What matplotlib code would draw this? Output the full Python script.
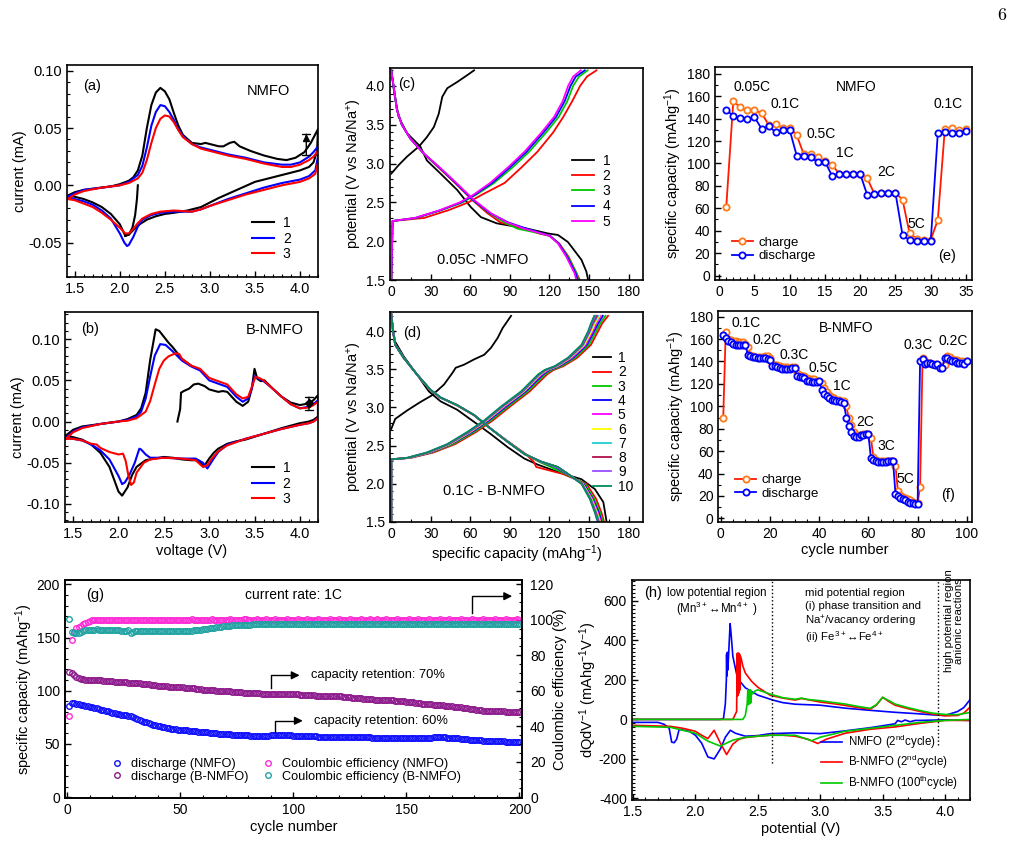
import matplotlib
matplotlib.use('Agg')
import matplotlib.pyplot as plt
import numpy as np
from matplotlib.ticker import MultipleLocator, FormatStrFormatter

plt.rcParams['font.family'] = ['Liberation Sans', 'DejaVu Sans']
plt.rcParams['mathtext.default'] = 'regular'
plt.rcParams['axes.unicode_minus'] = False
plt.rcParams['font.size'] = 10
plt.rcParams['axes.linewidth'] = 1.2

# %% data -----------------------------------------------------------------
# (a) CV of NMFO, (voltage, current) pairs going round each loop
cv_a_1 = [(2.2, 0.0), (2.19, -0.012), (2.17, -0.026), (2.14, -0.037), (2.1, -0.043), (2.06, -0.044),
          (2.0, -0.034), (1.9, -0.025), (1.8, -0.019), (1.7, -0.015), (1.6, -0.012), (1.5, -0.010),
          (1.42, -0.009), (1.5, -0.006), (1.6, -0.004), (1.7, -0.003), (1.8, -0.002), (1.9, -0.001),
          (2.0, 0.001), (2.1, 0.004), (2.15, 0.007), (2.2, 0.013), (2.25, 0.026), (2.3, 0.05),
          (2.35, 0.07), (2.4, 0.081), (2.45, 0.085), (2.5, 0.082), (2.55, 0.075), (2.6, 0.063),
          (2.65, 0.052), (2.7, 0.044), (2.8, 0.037), (2.9, 0.036), (2.95, 0.037), (3.0, 0.036),
          (3.1, 0.034), (3.15, 0.034), (3.22, 0.037), (3.27, 0.038), (3.33, 0.034), (3.45, 0.030),
          (3.6, 0.026), (3.75, 0.023), (3.85, 0.022), (3.95, 0.024), (4.05, 0.029), (4.12, 0.037),
          (4.2, 0.049), (4.19, 0.03), (4.15, 0.02), (4.1, 0.016), (4.0, 0.013), (3.85, 0.010),
          (3.7, 0.007), (3.5, 0.003), (3.3, -0.004), (3.1, -0.011), (3.0, -0.015), (2.9, -0.019),
          (2.75, -0.022), (2.6, -0.024), (2.5, -0.025), (2.4, -0.027), (2.3, -0.030), (2.2, -0.035),
          (2.15, -0.039), (2.1, -0.043), (2.06, -0.044)]
cv_a_2 = [(1.42, -0.010), (1.5, -0.007), (1.6, -0.004), (1.8, -0.002), (2.0, 0.0), (2.1, 0.003),
          (2.2, 0.009), (2.25, 0.017), (2.3, 0.033), (2.35, 0.052), (2.4, 0.064), (2.45, 0.070),
          (2.5, 0.069), (2.55, 0.064), (2.6, 0.057), (2.65, 0.049), (2.7, 0.043), (2.8, 0.036),
          (2.9, 0.033), (3.0, 0.031), (3.2, 0.027), (3.4, 0.024), (3.6, 0.020), (3.8, 0.018),
          (3.9, 0.018), (4.0, 0.020), (4.1, 0.025), (4.15, 0.029), (4.2, 0.034), (4.2, 0.025),
          (4.17, 0.013), (4.1, 0.008), (4.0, 0.005), (3.8, 0.002), (3.6, -0.002), (3.4, -0.007),
          (3.2, -0.012), (3.0, -0.018), (2.9, -0.021), (2.8, -0.023), (2.6, -0.023), (2.45, -0.024),
          (2.35, -0.026), (2.25, -0.03), (2.2, -0.036), (2.15, -0.045), (2.1, -0.052), (2.08, -0.053),
          (2.05, -0.05), (2.0, -0.042), (1.9, -0.029), (1.8, -0.022), (1.7, -0.017), (1.6, -0.014),
          (1.5, -0.012), (1.42, -0.010)]
cv_a_3 = [(1.42, -0.012), (1.5, -0.008), (1.6, -0.005), (1.8, -0.002), (2.0, 0.0), (2.1, 0.002),
          (2.2, 0.006), (2.25, 0.011), (2.3, 0.022), (2.35, 0.037), (2.4, 0.050), (2.45, 0.058),
          (2.5, 0.061), (2.55, 0.060), (2.6, 0.055), (2.65, 0.048), (2.7, 0.042), (2.8, 0.036),
          (2.9, 0.032), (3.0, 0.030), (3.2, 0.026), (3.4, 0.023), (3.6, 0.019), (3.8, 0.016),
          (3.9, 0.016), (4.0, 0.018), (4.1, 0.022), (4.15, 0.025), (4.2, 0.030), (4.2, 0.02),
          (4.17, 0.01), (4.1, 0.006), (4.0, 0.003), (3.8, 0.0), (3.6, -0.004), (3.4, -0.008),
          (3.2, -0.013), (3.0, -0.018), (2.9, -0.021), (2.8, -0.023), (2.6, -0.022), (2.45, -0.023),
          (2.35, -0.025), (2.25, -0.029), (2.2, -0.033), (2.15, -0.038), (2.1, -0.042), (2.06, -0.042),
          (2.0, -0.037), (1.9, -0.030), (1.8, -0.024), (1.7, -0.019), (1.6, -0.016), (1.5, -0.013),
          (1.42, -0.012)]

# (b) CV of B-NMFO
cv_b_1 = [(2.65, 0.0), (2.67, 0.01), (2.68, 0.015), (2.69, 0.035), (2.72, 0.037), (2.78, 0.04),
          (2.83, 0.045), (2.88, 0.046), (2.95, 0.043), (3.0, 0.039), (3.1, 0.036), (3.15, 0.037),
          (3.2, 0.036), (3.25, 0.030), (3.3, 0.024), (3.37, 0.019), (3.43, 0.024), (3.47, 0.040),
          (3.5, 0.064), (3.53, 0.052), (3.57, 0.049), (3.61, 0.050), (3.7, 0.040), (3.8, 0.030),
          (3.9, 0.023), (4.0, 0.020), (4.1, 0.022), (4.15, 0.026), (4.2, 0.032), (4.2, 0.006),
          (4.15, 0.002), (4.1, 0.0), (4.0, -0.002), (3.8, -0.008), (3.6, -0.015), (3.4, -0.022),
          (3.3, -0.024), (3.2, -0.027), (3.1, -0.033), (3.05, -0.038), (3.0, -0.045), (2.94, -0.055),
          (2.88, -0.047), (2.8, -0.047), (2.7, -0.046), (2.6, -0.044), (2.5, -0.043), (2.4, -0.045),
          (2.3, -0.047), (2.2, -0.055), (2.15, -0.065), (2.1, -0.08), (2.04, -0.09), (2.0, -0.085),
          (1.95, -0.07), (1.9, -0.055), (1.8, -0.038), (1.7, -0.028), (1.6, -0.022), (1.5, -0.019),
          (1.42, -0.017), (1.5, -0.010), (1.6, -0.006), (1.8, -0.003), (2.0, 0.0), (2.1, 0.003),
          (2.2, 0.008), (2.25, 0.016), (2.3, 0.035), (2.35, 0.075), (2.41, 0.112), (2.45, 0.110),
          (2.5, 0.103), (2.55, 0.096), (2.6, 0.090), (2.7, 0.076), (2.8, 0.068)]
cv_b_2 = [(1.42, -0.02), (1.5, -0.012), (1.6, -0.007), (1.8, -0.003), (2.0, 0.0), (2.1, 0.002),
          (2.2, 0.006), (2.25, 0.012), (2.3, 0.028), (2.35, 0.055), (2.4, 0.08), (2.46, 0.094),
          (2.52, 0.093), (2.6, 0.085), (2.7, 0.074), (2.8, 0.067), (2.9, 0.062), (3.0, 0.05),
          (3.1, 0.046), (3.2, 0.042), (3.3, 0.03), (3.37, 0.024), (3.43, 0.028), (3.47, 0.04),
          (3.5, 0.055), (3.55, 0.052), (3.6, 0.049), (3.7, 0.04), (3.8, 0.03), (3.9, 0.021),
          (4.0, 0.016), (4.1, 0.018), (4.15, 0.021), (4.2, 0.026), (4.2, 0.004), (4.15, 0.0),
          (4.1, -0.002), (4.0, -0.004), (3.8, -0.009), (3.6, -0.015), (3.4, -0.021), (3.2, -0.028),
          (3.1, -0.037), (3.05, -0.045), (2.98, -0.057), (2.93, -0.05), (2.85, -0.045), (2.7, -0.045),
          (2.5, -0.044), (2.35, -0.044), (2.3, -0.04), (2.25, -0.034), (2.23, -0.033), (2.18, -0.05),
          (2.12, -0.065), (2.07, -0.074), (2.04, -0.076), (2.0, -0.066), (1.9, -0.046), (1.8, -0.035),
          (1.7, -0.028), (1.6, -0.023), (1.5, -0.021), (1.42, -0.02)]
cv_b_3 = [(1.42, -0.021), (1.5, -0.013), (1.6, -0.008), (1.8, -0.003), (2.0, 0.0), (2.1, 0.001),
          (2.2, 0.004), (2.3, 0.012), (2.35, 0.025), (2.4, 0.045), (2.45, 0.064), (2.5, 0.074),
          (2.55, 0.079), (2.63, 0.083), (2.67, 0.082), (2.7, 0.076), (2.8, 0.068), (2.9, 0.064),
          (3.0, 0.053), (3.1, 0.049), (3.2, 0.045), (3.3, 0.033), (3.37, 0.028), (3.43, 0.03),
          (3.47, 0.042), (3.51, 0.054), (3.55, 0.053), (3.6, 0.05), (3.7, 0.04), (3.8, 0.03),
          (3.9, 0.021), (4.0, 0.016), (4.1, 0.017), (4.15, 0.02), (4.2, 0.024), (4.2, 0.004),
          (4.15, 0.0), (4.1, -0.002), (4.0, -0.004), (3.8, -0.009), (3.6, -0.015), (3.4, -0.021),
          (3.2, -0.029), (3.1, -0.036), (3.03, -0.045), (2.98, -0.053), (2.93, -0.055), (2.85, -0.047),
          (2.7, -0.045), (2.5, -0.044), (2.35, -0.046), (2.28, -0.05), (2.2, -0.062), (2.17, -0.074),
          (2.14, -0.077), (2.11, -0.066), (2.08, -0.048), (2.05, -0.039), (2.0, -0.04), (1.9, -0.037),
          (1.8, -0.032), (1.76, -0.028), (1.7, -0.027), (1.6, -0.023), (1.5, -0.021), (1.42, -0.021)]

# (c) 0.05C NMFO charge / discharge, capacities on a shared potential grid
c_ch_v = [1.5, 2.26, 2.3, 2.4, 2.5, 2.6, 2.75, 2.95, 3.15, 3.4, 3.6, 3.8, 4.0, 4.12, 4.2]
c_ch_cap = [
    [0, 1, 25, 43.5, 58.5, 69, 86, 98.8, 110.8, 122.8, 130.5, 137.2, 143.3, 148.5, 155.7],
    [0, 1, 19, 38, 54, 64.5, 78, 92, 104.5, 117.5, 127, 133.5, 138, 142.5, 149],
    [0, 1, 18.5, 37.5, 53, 63.5, 76.5, 90, 102.5, 115.5, 125, 131.5, 136, 140, 146.8],
    [0, 1, 18, 37, 52, 62.5, 75, 88.5, 101, 114, 123.5, 130, 134.2, 138, 143.8],
]
c_first_ch_cap = [0, 5.6, 12, 21, 27, 32.3, 36, 38.7, 42.5, 50, 57.8, 62.8]
c_first_ch_v = [2.87, 2.98, 3.09, 3.22, 3.34, 3.47, 3.64, 3.86, 3.97, 4.05, 4.14, 4.2]
c_dis_v = [4.2, 3.99, 3.69, 3.5, 3.32, 3.13, 2.94, 2.74, 2.53, 2.36, 2.24, 2.16, 2.1, 2.07, 1.97, 1.8, 1.59, 1.5]
c_dis_cap = [
    [0, 2.3, 5.6, 12, 22, 27, 37.4, 50, 60.3, 68, 80, 103.6, 118.8, 126.5, 134, 144.3, 148, 149.4],
    [0, 1.8, 4.3, 8, 14.5, 24.5, 36.5, 49, 61.5, 73, 83, 102, 112, 120, 127.5, 134.5, 140.5, 143],
    [0, 1.8, 4.3, 8, 14.5, 24.5, 37, 49.5, 62, 74.5, 86, 96, 113, 120, 127, 134, 140.5, 142],
    [0, 1.8, 4.3, 8, 14.5, 24.7, 37, 49.5, 62, 75, 89, 103, 114.5, 120.5, 127, 133.5, 139.8, 141.5],
    [0, 1.8, 4.3, 8, 14.5, 24.7, 37.4, 50, 62.8, 75.6, 88.3, 101, 113.7, 120, 126.5, 132.8, 139, 140.5],
]
c_dis_v_first = [4.2, 3.9, 3.6, 3.39, 3.22, 3.04, 2.87, 2.66, 2.44, 2.31, 2.23, 2.16, 2.1, 2.08, 1.99, 1.76, 1.61, 1.5]
c_cycles = ['1', '2', '3', '4', '5']
c_colors = ['black', '#ff0000', '#00c800', '#0000ff', '#ff00ff']

# (d) 0.1C B-NMFO charge / discharge (cycles 2-10 on a shared grid)
d_ch_v = [1.5, 2.32, 2.34, 2.41, 2.52, 2.68, 2.83, 3.01, 3.21, 3.43, 3.49, 3.54, 3.65, 3.82, 4.0, 4.1, 4.2]
d_ch_cap = [
    [0, 0, 15, 32, 48.5, 64.5, 77, 90, 105, 118, 123, 130.5, 141, 151.5, 157, 160, 164.5],
    [0, 0, 14, 30.5, 47, 63, 75.5, 88.5, 103.5, 116.5, 121.5, 129, 139.5, 150, 155.5, 158.5, 162.5],
    [0, 0, 13.5, 29.5, 45.5, 61.5, 74, 87, 102, 115, 120, 127.5, 138, 148.5, 154, 157, 160.5],
    [0, 0, 13, 29, 45, 60.5, 73, 86, 101, 114, 119, 126.5, 137, 147.5, 153, 155.5, 159],
    [0, 0, 13, 28.5, 44.5, 60, 72.5, 85, 100.5, 113, 118, 126, 136, 146.5, 152, 154.5, 158],
    [0, 0, 12.5, 28, 44, 59.5, 72, 84.5, 100, 112.5, 117.5, 125.5, 135.5, 145.8, 151, 153.5, 157],
    [0, 0, 12.5, 27.8, 43.5, 59, 71.5, 84, 99.5, 112, 117, 125, 135, 145.2, 150.5, 152.8, 156],
    [0, 0, 12, 27.3, 43, 58.2, 71, 83.5, 99, 111.6, 116.6, 124.5, 134.5, 144.7, 150, 152, 155],
    [0, 0, 12, 27, 42.5, 57.8, 70.5, 83.2, 98.5, 111.3, 116.3, 124, 134, 144.3, 149.4, 151.5, 154],
]
d_first_ch_cap = [0, 3, 12, 22, 31, 40, 46.3, 48.9, 55.2, 62.9, 70.5, 75.6, 80.7, 84.5, 90.9]
d_first_ch_v = [2.72, 2.85, 2.96, 3.07, 3.16, 3.3, 3.45, 3.52, 3.56, 3.63, 3.69, 3.78, 3.91, 4.04, 4.2]
d_dis_v = [4.22, 4.0, 3.82, 3.65, 3.43, 3.23, 3.13, 3.03, 2.9, 2.72, 2.55, 2.39, 2.29, 2.22, 2.13, 2.0, 1.8, 1.62, 1.5]
d_dis_cap = [
    [0, 1.3, 3, 9.4, 19.6, 29.5, 37, 49.5, 62.5, 75.5, 89, 102, 108, 110, 130, 148, 155.5, 159.5, 161.5],
    [0, 1.3, 3, 9.4, 19.6, 29.6, 37.2, 49.8, 62.7, 75.5, 88.6, 101.5, 112, 121, 132, 147, 154, 158.5, 160.5],
    [0, 1.3, 3, 9.4, 19.6, 29.7, 37.3, 49.9, 62.8, 75.6, 88.4, 101.2, 113, 124.5, 133, 146, 153, 157.5, 159.5],
    [0, 1.3, 3, 9.4, 19.6, 29.7, 37.3, 49.9, 62.8, 75.6, 88.4, 101.1, 113.3, 125.5, 133.5, 145.5, 152.5, 156.8, 159],
    [0, 1.3, 3, 9.4, 19.6, 29.7, 37.3, 49.9, 62.8, 75.6, 88.4, 101.1, 113.5, 126, 133.8, 145.2, 152, 156.2, 158.4],
    [0, 1.3, 3, 9.4, 19.6, 29.8, 37.4, 50, 62.9, 75.6, 88.3, 101, 113.6, 126.2, 133.9, 144.9, 151.6, 155.7, 157.9],
    [0, 1.3, 3, 9.4, 19.6, 29.8, 37.4, 50, 62.9, 75.6, 88.3, 101, 113.7, 126.3, 134, 144.7, 151.2, 155.2, 157.4],
    [0, 1.3, 3, 9.4, 19.6, 29.8, 37.4, 50, 62.9, 75.6, 88.3, 101, 113.8, 126.4, 134, 144.5, 150.9, 154.8, 157],
    [0, 1.3, 3, 9.4, 19.6, 29.8, 37.4, 50, 62.9, 75.6, 88.3, 101, 113.8, 126.5, 134, 144.3, 150.7, 154.5, 156.6],
]
d_first_dis_cap = [0, 1.5, 3, 9.4, 19.6, 28.5, 37.4, 50, 62.9, 75.6, 88.3, 101, 111.3, 124, 136.7, 144.3, 154.5, 160.9, 163.4]
d_first_dis_v = [4.22, 4.0, 3.86, 3.67, 3.43, 3.21, 3.08, 2.97, 2.81, 2.65, 2.48, 2.33, 2.25, 2.17, 2.1, 2.06, 1.93, 1.76, 1.5]
d_cycles = ['1', '2', '3', '4', '5', '6', '7', '8', '9', '10']
d_colors = ['black', '#ff0000', '#00c800', '#0000ff', '#ff00ff', '#ffff00', '#20d0d0',
            '#b0104a', '#9b4dff', '#008c5a']

# (e) rate test NMFO
e_cycle = np.arange(1, 36)
e_charge = [61, 155.5, 150, 147.4, 147.4, 145, 134.6, 135, 131.6, 132,
            125, 108, 108.5, 106, 102, 98.6, 91, 90.5, 90.5, 90.5,
            86.6, 73, 73.5, 74, 74, 67.5, 37.5, 33, 32, 32,
            49.5, 131, 131.5, 130, 131]
e_discharge = [147.4, 142.6, 140.5, 140, 141.4, 131, 133, 128, 129.8, 129.8,
               106.7, 107, 105.5, 101, 101.6, 89, 90.2, 90.5, 90.5, 90.5,
               71.7, 73, 73.5, 73.5, 73.5, 36, 31.5, 31, 31, 31,
               127, 128, 127, 127, 129]
e_rates = ['0.05C', '0.1C', '0.5C', '1C', '2C', '5C', '0.1C']
e_rate_x = [4.6, 9.3, 14.5, 17.8, 23.7, 28.0, 32.5]
e_rate_y = [168, 153, 126.5, 109, 92, 46, 153]

# (f) rate test B-NMFO
f_cycle = np.arange(1, 101)
f_charge = [90, 166, 160, 159, 158, 158, 157, 157, 157, 156,
            153, 146, 145, 144, 144, 144, 144, 145, 145, 143,
            138, 137, 137, 136, 135, 135, 135, 134, 135, 135,
            130, 128, 127, 127, 125, 124, 124, 124, 123, 123,
            121, 116, 113, 110, 108, 107, 106, 106, 105, 105,
            100, 90, 83, 77, 74, 74, 74, 75, 75, 75,
            72, 55, 52, 51, 51, 51, 51, 51, 51, 51,
            47, 24, 21, 19, 18, 17, 16, 15, 14, 14,
            28, 143, 140, 139, 139, 138, 138, 137, 136, 135,
            137, 145, 144, 142, 141, 141, 140, 140, 139, 140]
f_discharge = [163.5, 161, 158, 157, 156, 155, 155, 155, 155, 155,
               146, 145, 144, 144, 143, 143, 143, 143, 142, 141,
               136, 136, 135, 134, 133, 133, 133, 133, 134, 134,
               127, 126, 126, 125, 123, 123, 122, 122, 122, 123,
               115, 111, 109, 107, 106, 106, 105, 105, 104, 103,
               90, 82, 77, 73.5, 73, 73, 74, 74, 75, 75,
               54, 52, 51, 50, 50, 50, 50, 51, 51, 51,
               22, 20, 18, 17, 16, 15, 14, 14, 13, 13,
               140, 142, 138, 139, 139, 138, 137, 138, 134, 134,
               143, 143, 141, 140, 140, 139, 139, 139, 138, 140]
f_rates = ['0.1C', '0.2C', '0.3C', '0.5C', '1C', '2C', '3C', '5C', '0.3C', '0.2C']
f_rate_x = [10.3, 18.9, 30, 41.6, 49, 58.8, 67.3, 75, 80, 94.3]
f_rate_y = [174, 159, 146, 134.5, 118.5, 85.7, 65, 35, 155, 158]

# (g) long cycling at 1C
g_cycle = np.arange(1, 201)
g_dis_nmfo = [
    86.0, 88.5, 88.3, 87.6, 87.1, 86.6, 86.2, 85.8, 85.4, 85.0,
    84.5, 84.0, 83.4, 82.9, 82.3, 81.8, 81.2, 80.7, 80.1, 79.5,
    79.0, 78.6, 78.1, 77.6, 77.2, 76.9, 76.6, 76.3, 75.2, 74.2,
    73.4, 72.6, 71.9, 71.1, 70.4, 69.7, 69.0, 68.3, 67.7, 67.1,
    66.5, 66.0, 65.5, 65.1, 64.7, 64.4, 64.1, 63.8, 63.6, 63.4,
    63.2, 63.0, 62.7, 62.5, 62.2, 62.0, 61.8, 61.6, 61.4, 61.2,
    61.0, 60.8, 60.6, 60.4, 60.2, 60.0, 59.8, 59.7, 59.5, 59.4,
    59.2, 59.0, 58.9, 58.7, 58.6, 58.4, 58.3, 58.2, 58.1, 58.0,
    57.9, 57.9, 57.8, 57.8, 57.7, 57.8, 57.8, 57.9, 57.9, 58.0,
    58.0, 58.1, 58.1, 58.2, 58.2, 58.2, 58.1, 58.0, 58.0, 57.9,
    57.9, 57.8, 57.7, 57.6, 57.5, 57.5, 57.4, 57.3, 57.2, 57.1,
    57.0, 56.9, 56.8, 56.8, 56.7, 56.6, 56.5, 56.5, 56.4, 56.4,
    56.3, 56.3, 56.4, 56.4, 56.5, 56.5, 56.6, 56.5, 56.5, 56.4,
    56.3, 56.2, 56.2, 56.1, 56.0, 56.0, 55.9, 55.9, 55.8, 55.8,
    55.7, 55.7, 55.6, 55.6, 55.6, 55.5, 55.5, 55.5, 55.4, 55.4,
    55.4, 55.3, 55.3, 55.4, 55.5, 55.6, 55.7, 55.8, 55.9, 56.0,
    56.0, 56.1, 56.1, 56.2, 56.2, 56.2, 56.1, 56.0, 55.9, 55.7,
    55.6, 55.4, 55.2, 55.0, 54.8, 54.6, 54.4, 54.2, 54.0, 53.8,
    53.6, 53.4, 53.3, 53.1, 53.0, 52.9, 52.8, 52.7, 52.6, 52.5,
    52.5, 52.4, 52.4, 52.3, 52.3, 52.2, 52.2, 52.1, 52.1, 52.0]
g_dis_bnmfo = [
    118.0, 116.5, 114.8, 113.2, 112.0, 111.2, 110.7, 110.4, 110.3, 110.2,
    110.1, 110.0, 110.0, 109.9, 109.8, 109.6, 109.4, 109.2, 109.0, 108.8,
    108.6, 108.4, 108.2, 108.0, 107.9, 107.8, 107.7, 107.6, 107.5, 107.4,
    107.2, 107.0, 106.8, 106.6, 106.3, 106.0, 105.7, 105.4, 105.1, 104.8,
    104.6, 104.4, 104.2, 104.0, 103.8, 103.7, 103.6, 103.5, 103.4, 103.3,
    103.2, 103.0, 102.8, 102.6, 102.4, 102.2, 102.0, 101.7, 101.4, 101.1,
    100.9, 100.7, 100.5, 100.4, 100.3, 100.2, 100.1, 100.0, 99.9, 99.8,
    99.6, 99.4, 99.2, 99.0, 98.8, 98.6, 98.4, 98.2, 98.0, 97.9,
    97.8, 97.7, 97.6, 97.5, 97.5, 97.4, 97.4, 97.4, 97.3, 97.3,
    97.3, 97.3, 97.2, 97.2, 97.2, 97.1, 97.0, 96.9, 96.8, 96.7,
    96.6, 96.5, 96.4, 96.2, 96.0, 95.9, 95.8, 95.7, 95.6, 95.5,
    95.4, 95.3, 95.2, 95.2, 95.1, 95.1, 95.0, 94.9, 94.8, 94.7,
    94.6, 94.4, 94.2, 94.0, 93.8, 93.6, 93.4, 93.2, 93.0, 92.8,
    92.6, 92.4, 92.2, 92.0, 91.8, 91.7, 91.6, 91.5, 91.4, 91.3,
    91.2, 91.1, 91.0, 90.9, 90.8, 90.6, 90.4, 90.2, 90.0, 89.8,
    89.6, 89.4, 89.2, 88.9, 88.6, 88.3, 88.0, 87.8, 87.6, 87.4,
    87.2, 87.0, 86.8, 86.6, 86.4, 86.2, 86.0, 85.8, 85.6, 85.4,
    85.2, 84.9, 84.6, 84.3, 84.0, 83.7, 83.4, 83.1, 82.8, 82.5,
    82.2, 81.9, 81.6, 81.4, 81.2, 81.0, 80.9, 80.8, 80.8, 80.7,
    80.7, 80.6, 80.6, 80.5, 80.5, 80.4, 80.3, 80.2, 80.1, 80.0]
g_ce_nmfo = [
    46.0, 88.6, 93.0, 95.6, 95.9, 96.4, 97.6, 98.4, 99.0, 99.4,
    99.7, 99.9, 100.0, 99.9, 100.0, 99.9, 99.8, 99.9, 100.0, 99.9,
    99.9, 100.0, 99.9, 99.8, 99.9, 100.0, 100.1, 99.9, 100.0, 99.9,
    100.0, 99.9, 100.0, 100.1, 99.9, 100.0, 100.0, 99.9, 100.1, 100.0,
    100.0, 100.1, 99.9, 100.0, 100.1, 100.0, 99.9, 100.0, 100.1, 100.0,
    100.1, 100.0, 100.1, 100.0, 100.2, 100.0, 100.1, 100.0, 100.1, 100.0,
    100.1, 100.0, 100.1, 100.2, 100.0, 100.1, 100.0, 100.1, 100.1, 100.0,
    100.1, 100.2, 100.0, 100.1, 100.1, 100.0, 100.1, 100.2, 100.4, 100.1,
    100.1, 100.0, 100.1, 100.2, 100.1, 100.0, 100.1, 100.2, 100.1, 100.0,
    100.1, 100.2, 100.1, 100.1, 100.0, 100.1, 100.2, 100.1, 100.1, 100.0,
    100.1, 100.2, 100.1, 100.0, 100.1, 100.2, 100.1, 100.1, 100.0, 100.1,
    100.2, 100.1, 100.1, 100.0, 100.1, 100.2, 100.1, 100.0, 100.1, 100.2,
    100.1, 100.1, 100.0, 100.1, 100.2, 100.1, 100.1, 100.0, 100.1, 100.2,
    100.1, 100.0, 100.1, 100.2, 100.1, 100.1, 100.2, 100.1, 100.0, 100.1,
    100.3, 100.1, 100.1, 100.0, 100.1, 100.2, 100.1, 100.1, 100.0, 100.1,
    100.2, 100.1, 100.0, 100.1, 100.2, 100.1, 100.1, 100.0, 100.1, 100.2,
    100.1, 100.1, 100.0, 100.1, 100.2, 100.1, 100.0, 100.1, 100.2, 100.1,
    100.1, 100.0, 100.1, 100.2, 100.1, 100.1, 100.0, 100.1, 100.2, 100.1,
    100.1, 100.0, 100.1, 100.2, 100.1, 100.1, 100.0, 100.1, 100.2, 100.1,
    100.1, 100.0, 100.1, 100.2, 100.1, 100.1, 100.0, 100.1, 100.2, 100.1]
g_ce_bnmfo = [
    100.5, 93.2, 92.4, 92.5, 92.8, 93.3, 93.8, 94.1, 94.3, 94.4,
    94.5, 94.5, 94.6, 94.5, 94.5, 94.4, 94.4, 94.3, 94.4, 94.3,
    94.2, 94.1, 94.0, 93.9, 93.8, 93.6, 94.0, 92.8, 93.3, 93.5,
    93.5, 93.6, 93.5, 93.5, 93.4, 93.5, 93.5, 93.4, 93.5, 93.5,
    93.5, 93.6, 93.5, 93.5, 93.6, 93.6, 93.5, 93.6, 93.6, 93.7,
    93.7, 93.7, 93.8, 93.8, 93.9, 94.0, 94.1, 94.3, 94.5, 94.6,
    94.8, 95.0, 95.2, 95.4, 95.6, 95.8, 95.9, 96.1, 96.3, 96.4,
    96.6, 96.7, 96.8, 96.9, 97.0, 97.1, 97.1, 97.2, 97.3, 97.3,
    97.3, 97.4, 97.4, 97.4, 97.5, 97.4, 97.5, 97.5, 97.4, 97.5,
    97.5, 97.4, 97.5, 97.6, 97.5, 97.5, 97.4, 97.5, 97.6, 97.5,
    97.6, 97.5, 97.5, 97.6, 97.7, 97.6, 97.5, 97.6, 97.6, 97.5,
    97.6, 97.7, 97.6, 97.6, 97.5, 97.6, 97.7, 97.6, 97.5, 97.6,
    97.7, 97.6, 97.6, 97.7, 97.6, 97.5, 97.6, 97.7, 97.6, 97.6,
    97.7, 97.6, 97.5, 97.6, 97.7, 97.7, 97.6, 97.6, 97.7, 97.8,
    97.7, 97.6, 97.7, 97.7, 97.6, 97.7, 97.8, 97.7, 97.6, 97.7,
    97.7, 97.8, 97.7, 97.6, 97.7, 97.8, 97.7, 97.7, 97.8, 97.7,
    97.6, 97.7, 97.8, 97.7, 97.7, 97.6, 97.7, 97.8, 97.7, 97.7,
    97.8, 97.7, 97.6, 97.7, 97.8, 97.7, 97.7, 97.8, 97.7, 97.6,
    97.7, 97.8, 97.7, 97.7, 97.8, 97.7, 97.6, 97.7, 97.8, 97.7,
    97.7, 97.8, 97.7, 97.7, 97.8, 97.8, 97.7, 97.7, 97.8, 97.8]

# (h) dQ/dV, (potential, dQdV) pairs for charge and discharge branches
h_nmfo_ch = [(1.5, 0), (2.0, 0), (2.2, 0), (2.225, 5), (2.24, 80), (2.248, 200), (2.25, 330),
             (2.253, 220), (2.256, 340), (2.26, 250), (2.27, 380), (2.278, 485), (2.285, 440),
             (2.3, 320), (2.33, 230), (2.36, 190), (2.4, 160), (2.5, 123), (2.62, 98), (2.7, 85),
             (2.8, 77), (3.0, 72), (3.2, 57), (3.4, 46), (3.6, 36), (3.8, 28), (3.9, 23),
             (4.0, 20), (4.1, 40), (4.15, 60), (4.2, 100)]
h_nmfo_dis = [(1.5, -15), (1.7, -15), (1.75, -25), (1.79, -45), (1.81, -115), (1.83, -118),
              (1.85, -100), (1.87, -50), (1.95, -60), (2.0, -80), (2.05, -120), (2.1, -190),
              (2.15, -200), (2.2, -150), (2.24, -90), (2.28, -55), (2.32, -70), (2.4, -85),
              (2.5, -82), (2.6, -72), (2.8, -68), (3.0, -72), (3.2, -58), (3.4, -42), (3.6, -22),
              (3.62, -5), (3.65, -12), (3.68, -3), (3.72, -12), (3.76, -5), (3.8, -5), (4.0, -2),
              (4.2, -5)]
h_b2_ch = [(1.5, 0), (2.3, 0), (2.33, 40), (2.336, 335), (2.339, 120), (2.342, 335), (2.345, 130),
           (2.348, 335), (2.351, 140), (2.354, 330), (2.357, 150), (2.36, 320), (2.37, 300),
           (2.38, 270), (2.4, 235), (2.45, 193), (2.5, 163), (2.6, 122), (2.7, 108), (2.8, 98),
           (2.85, 106), (2.9, 100), (3.0, 88), (3.1, 80), (3.2, 71), (3.3, 60), (3.4, 52),
           (3.45, 72), (3.5, 112), (3.55, 90), (3.6, 72), (3.7, 55), (3.8, 40), (3.9, 27),
           (4.0, 18), (4.1, 20), (4.15, 32), (4.2, 62)]
h_b2_dis = [(1.5, -30), (1.8, -35), (1.9, -45), (2.0, -60), (2.05, -80), (2.1, -97), (2.15, -55),
            (2.2, -120), (2.25, -178), (2.3, -125), (2.35, -100), (2.4, -92), (2.5, -85),
            (2.6, -80), (2.7, -80), (2.8, -85), (2.9, -100), (2.98, -122), (3.05, -100),
            (3.2, -70), (3.4, -50), (3.6, -38), (3.8, -20), (4.0, -5), (4.2, -5)]
h_b100_ch = [(1.5, 0), (2.38, 0), (2.4, 20), (2.415, 80), (2.42, 150), (2.425, 75), (2.43, 145),
             (2.435, 80), (2.44, 150), (2.445, 85), (2.45, 140), (2.46, 130), (2.48, 145),
             (2.5, 150), (2.6, 128), (2.7, 110), (2.8, 102), (2.85, 108), (2.9, 101), (3.0, 95),
             (3.1, 86), (3.2, 78), (3.3, 66), (3.4, 56), (3.45, 75), (3.5, 112), (3.55, 95),
             (3.6, 78), (3.7, 60), (3.8, 45), (3.9, 32), (4.0, 25), (4.1, 24), (4.2, 35)]
h_b100_dis = [(1.5, -35), (1.8, -40), (2.0, -70), (2.1, -110), (2.2, -135), (2.25, -120),
              (2.3, -105), (2.4, -90), (2.5, -85), (2.6, -80), (2.8, -80), (2.93, -108),
              (3.0, -90), (3.2, -60), (3.4, -45), (3.6, -30), (3.8, -15), (4.0, -5), (4.2, 0)]


# %% helpers --------------------------------------------------------------
def style(ax, xmaj, xminor, ymaj, yminor, size=10.5):
    ax.xaxis.set_major_locator(MultipleLocator(xmaj))
    ax.xaxis.set_minor_locator(MultipleLocator(xminor))
    ax.yaxis.set_major_locator(MultipleLocator(ymaj))
    ax.yaxis.set_minor_locator(MultipleLocator(yminor))
    ax.tick_params(which='both', direction='in', top=False, right=False, labelsize=size)
    ax.tick_params(which='major', length=4, width=1)
    ax.tick_params(which='minor', length=2, width=0.8)


def xy(pairs):
    return [p[0] for p in pairs], [p[1] for p in pairs]


fig = plt.figure(figsize=(10.15, 8.46), dpi=100)

# %% (a) ------------------------------------------------------------------
ax = fig.add_axes([0.0657, 0.6726, 0.2476, 0.2506])
for pairs, col, lab in [(cv_a_1, 'black', '1'), (cv_a_2, '#0000ff', '2'), (cv_a_3, '#ff0000', '3')]:
    v, i = xy(pairs)
    ax.plot(v, i, color=col, lw=1.5, label=lab)
ax.annotate('', xy=(4.07, 0.047), xytext=(4.07, 0.024),
            arrowprops=dict(arrowstyle='|-|', lw=1, mutation_scale=3, color='black'))
ax.plot([4.07], [0.041], marker='^', color='black', ms=5)
ax.set_xlim(1.41, 4.2)
ax.set_ylim(-0.08, 0.105)
style(ax, 0.5, 0.1, 0.05, 0.01)
ax.yaxis.set_major_formatter(FormatStrFormatter('%.2f'))
ax.set_ylabel('current (mA)', fontsize=10.5, labelpad=1)
ax.text(1.69, 0.087, '(a)', fontsize=10.5, ha='center', va='center')
ax.text(3.65, 0.082, 'NMFO', fontsize=10.5, ha='center', va='center')
ax.legend(loc='lower right', bbox_to_anchor=(0.93, 0.03), frameon=False, fontsize=10,
          handlelength=1.6, labelspacing=0.1, handletextpad=0.6, borderpad=0.2)

# %% (b) ------------------------------------------------------------------
ax = fig.add_axes([0.064, 0.383, 0.2493, 0.2482])
for pairs, col, lab in [(cv_b_1, 'black', '1'), (cv_b_2, '#0000ff', '2'), (cv_b_3, '#ff0000', '3')]:
    v, i = xy(pairs)
    ax.plot(v, i, color=col, lw=1.5, label=lab)
ax.annotate('', xy=(4.1, 0.033), xytext=(4.1, 0.011),
            arrowprops=dict(arrowstyle='|-|', lw=1, mutation_scale=3, color='black'))
ax.plot([4.1], [0.022], marker='D', color='black', ms=4)
ax.set_xlim(1.41, 4.2)
ax.set_ylim(-0.122, 0.133)
style(ax, 0.5, 0.1, 0.05, 0.01)
ax.yaxis.set_major_formatter(FormatStrFormatter('%.2f'))
ax.set_ylabel('current (mA)', fontsize=10.5, labelpad=1)
ax.set_xlabel('voltage (V)', fontsize=10.5, labelpad=2)
ax.text(1.69, 0.112, '(b)', fontsize=10.5, ha='center', va='center')
ax.text(3.72, 0.111, 'B-NMFO', fontsize=10.5, ha='center', va='center')
ax.legend(loc='lower right', bbox_to_anchor=(0.93, 0.03), frameon=False, fontsize=10,
          handlelength=1.6, labelspacing=0.1, handletextpad=0.6, borderpad=0.2)

# %% (c) ------------------------------------------------------------------
ax = fig.add_axes([0.3842, 0.669, 0.2493, 0.2506])
ax.plot(c_first_ch_cap, c_first_ch_v, color=c_colors[0], lw=1.3)
ax.plot(c_dis_cap[0], c_dis_v_first, color=c_colors[0], lw=1.3, label=c_cycles[0])
for k in range(1, 5):
    ax.plot(c_ch_cap[k - 1], c_ch_v, color=c_colors[k], lw=1.3)
    ax.plot(c_dis_cap[k], c_dis_v, color=c_colors[k], lw=1.3, label=c_cycles[k])
ax.set_xlim(-1, 191)
ax.set_ylim(1.5, 4.23)
style(ax, 30, 15, 0.5, 0.1, size=10)
ax.yaxis.set_major_formatter(FormatStrFormatter('%.1f'))
ax.set_ylabel('potential (V vs Na/Na$^{+}$)', fontsize=10.5, labelpad=1)
ax.text(12, 4.03, '(c)', fontsize=10.5, ha='center', va='center')
ax.text(69, 1.76, '0.05C -NMFO', fontsize=10.5, ha='center', va='center')
ax.legend(loc='upper right', bbox_to_anchor=(0.91, 0.64), frameon=False, fontsize=10,
          handlelength=1.6, labelspacing=0.08, handletextpad=0.6, borderpad=0.2)

# %% (d) ------------------------------------------------------------------
ax = fig.add_axes([0.3842, 0.383, 0.2493, 0.2482])
ax.plot(d_first_ch_cap, d_first_ch_v, color=d_colors[0], lw=1.3)
ax.plot(d_first_dis_cap, d_first_dis_v, color=d_colors[0], lw=1.3, label=d_cycles[0])
for k in range(1, 10):
    ax.plot(d_ch_cap[k - 1], d_ch_v, color=d_colors[k], lw=1.3)
    ax.plot(d_dis_cap[k - 1], d_dis_v, color=d_colors[k], lw=1.3, label=d_cycles[k])
ax.set_xlim(-1, 191)
ax.set_ylim(1.5, 4.25)
style(ax, 30, 15, 0.5, 0.1, size=10)
ax.yaxis.set_major_formatter(FormatStrFormatter('%.1f'))
ax.set_ylabel('potential (V vs Na/Na$^{+}$)', fontsize=10.5, labelpad=1)
ax.set_xlabel('specific capacity (mAhg$^{-1}$)', fontsize=10.5, labelpad=2)
ax.text(15.8, 3.98, '(d)', fontsize=10.5, ha='center', va='center')
ax.text(78, 1.91, '0.1C - B-NMFO', fontsize=10.5, ha='center', va='center')
ax.legend(loc='upper right', bbox_to_anchor=(1.0, 0.86), frameon=False, fontsize=10,
          handlelength=1.3, labelspacing=0.02, handletextpad=0.5, borderpad=0.2)

# %% (e) ------------------------------------------------------------------
ax = fig.add_axes([0.7044, 0.669, 0.2529, 0.2518])
ax.plot(e_cycle, e_charge, color='#ff1a00', lw=1.3, marker='o', ms=4.5, mfc='white',
        mec='#ff7a1a', mew=1.3, label='charge')
ax.plot(e_cycle, e_discharge, color='#0000ff', lw=1.3, marker='o', ms=4.5, mfc='white',
        mec='#0000ff', mew=1.3, label='discharge')
for t, x, y in zip(e_rates, e_rate_x, e_rate_y):
    ax.text(x, y, t, fontsize=10, ha='center', va='center')
ax.text(19.5, 168, 'NMFO', fontsize=10, ha='center', va='center')
ax.text(32.3, 17, '(e)', fontsize=10.5, ha='center', va='center')
ax.set_xlim(-0.6, 35.8)
ax.set_ylim(-4, 186)
style(ax, 5, 1, 20, 10, size=10)
ax.set_ylabel('specific capacity (mAhg$^{-1}$)', fontsize=10.5, labelpad=2)
ax.legend(loc='lower left', bbox_to_anchor=(0.03, 0.04), frameon=False, fontsize=9.5,
          handlelength=1.6, labelspacing=0.1, handletextpad=0.4, borderpad=0.2)

# %% (f) ------------------------------------------------------------------
ax = fig.add_axes([0.7077, 0.3833, 0.2497, 0.249])
ax.plot(f_cycle, f_charge, color='#ff1a00', lw=1.3, marker='o', ms=4.5, mfc='white',
        mec='#ff7a1a', mew=1.3, label='charge')
ax.plot(f_cycle, f_discharge, color='#0000ff', lw=1.3, marker='o', ms=4.5, mfc='white',
        mec='#0000ff', mew=1.3, label='discharge')
for t, x, y in zip(f_rates, f_rate_x, f_rate_y):
    ax.text(x, y, t, fontsize=10, ha='center', va='center')
ax.text(51, 169.6, 'B-NMFO', fontsize=10, ha='center', va='center')
ax.text(92.3, 20.8, '(f)', fontsize=10.5, ha='center', va='center')
ax.set_xlim(-1, 102)
ax.set_ylim(-3, 185)
style(ax, 20, 5, 20, 10, size=10)
ax.set_ylabel('specific capacity (mAhg$^{-1}$)', fontsize=10.5, labelpad=2)
ax.set_xlabel('cycle number', fontsize=10.5, labelpad=2)
ax.legend(loc='lower left', bbox_to_anchor=(0.03, 0.06), frameon=False, fontsize=9.5,
          handlelength=1.6, labelspacing=0.1, handletextpad=0.4, borderpad=0.2)

# %% (g) ------------------------------------------------------------------
ax = fig.add_axes([0.064, 0.0564, 0.45, 0.258])
ax2 = ax.twinx()
mk = dict(ls='none', marker='o', ms=4, mfc='none', mew=1)
h1, = ax.plot(g_cycle, g_dis_nmfo, mec='#1010ff', label='discharge (NMFO)', **mk)
h2, = ax.plot(g_cycle, g_dis_bnmfo, mec='#8e1b8e', label='discharge (B-NMFO)', **mk)
h3, = ax2.plot(g_cycle, g_ce_nmfo, mec='#ff2bd6', label='Coulombic efficiency (NMFO)', **mk)
h4, = ax2.plot(g_cycle, g_ce_bnmfo, mec='#22a3a3', label='Coulombic efficiency (B-NMFO)', **mk)
ax.set_xlim(-1, 201)
ax.set_ylim(-1, 204)
ax2.set_ylim(-0.6, 122.4)
style(ax, 50, 10, 50, 10, size=10)
ax2.yaxis.set_major_locator(MultipleLocator(20))
ax2.yaxis.set_minor_locator(MultipleLocator(5))
ax2.tick_params(which='both', direction='in', labelsize=10, pad=6)
ax2.tick_params(which='major', length=4, width=1)
ax2.tick_params(which='minor', length=2, width=0.8)
ax.set_ylabel('specific capacity (mAhg$^{-1}$)', fontsize=10.5, labelpad=1)
ax2.set_ylabel('Coulombic efficiency (%)', fontsize=10.5, labelpad=0)
ax.set_xlabel('cycle number', fontsize=10.5, labelpad=2)
ax.text(12.5, 190, '(g)', fontsize=10.5, ha='center', va='center')
ax.text(100, 190, 'current rate: 1C', fontsize=10, ha='center', va='center')
ax.text(108, 114.5, 'capacity retention: 70%', fontsize=9.3, ha='left', va='center')
ax.text(109, 72, 'capacity retention: 60%', fontsize=9.3, ha='left', va='center')
# elbow arrows
for x0, y0, y1, x1 in [(179, 173, 188.8, 198), (90, 103, 114.5, 104), (91.7, 60.8, 71.8, 105.4)]:
    ax.plot([x0, x0, x1 - 3], [y0, y1, y1], color='black', lw=1)
    ax.annotate('', xy=(x1, y1), xytext=(x1 - 4, y1),
                arrowprops=dict(arrowstyle='-|>', color='black', lw=1, mutation_scale=12))
ax2.legend(handles=[h1, h2, h3, h4], ncol=2, loc='lower left', bbox_to_anchor=(0.08, 0.03),
           frameon=False, fontsize=9.2, handlelength=1.0, handletextpad=0.6,
           columnspacing=1.0, labelspacing=0.05, borderpad=0.2)

# %% (h) ------------------------------------------------------------------
ax = fig.add_axes([0.6224, 0.0544, 0.3333, 0.26])
for ch, dis, col, lab in [(h_nmfo_ch, h_nmfo_dis, '#0000ff', 'NMFO (2$^{nd}$cycle)'),
                          (h_b2_ch, h_b2_dis, '#ff0000', 'B-NMFO (2$^{nd}$cycle)'),
                          (h_b100_ch, h_b100_dis, '#00c800', 'B-NMFO (100$^{th}$cycle)')]:
    v, q = xy(ch)
    ax.plot(v, q, color=col, lw=1.2, label=lab)
    v, q = xy(dis)
    ax.plot(v, q, color=col, lw=1.2)
ax.axvline(2.615, ymin=0.169, ymax=1, color='black', ls=':', lw=1)
ax.axvline(3.94, ymin=0.25, ymax=1, color='black', ls=':', lw=1)
ax.set_xlim(1.49, 4.2)
ax.set_ylim(-408, 706)
style(ax, 0.5, 0.1, 200, 20, size=10)
ax.yaxis.set_major_formatter(FormatStrFormatter('%d'))
ax.set_ylabel('dQdV$^{-1}$ (mAhg$^{-1}$V$^{-1}$)', fontsize=10.5, labelpad=0)
ax.set_xlabel('potential (V)', fontsize=10.5, labelpad=2)
ax.text(1.66, 640, '(h)', fontsize=10.5, ha='center', va='center')
ax.text(2.175, 640, 'low potential region', fontsize=8.3, ha='center', va='center')
ax.text(2.17, 560, '(Mn$^{3+}$\u2194Mn$^{4+}$ )', fontsize=8.3, ha='center', va='center')
ax.text(2.88, 640, 'mid potential region', fontsize=8.2, ha='left', va='center')
ax.text(2.88, 575, '(i) phase transition and', fontsize=8.2, ha='left', va='center')
ax.text(2.88, 495, 'Na$^{+}$/vacancy ordering', fontsize=8.2, ha='left', va='center')
ax.text(2.88, 415, '(ii) Fe$^{3+}$\u2194Fe$^{4+}$', fontsize=8.2, ha='left', va='center')
ax.text(4.075, 500, 'high potential region\nanionic reactions', fontsize=8.2, rotation=90,
        ha='center', va='center', linespacing=1.0)
ax.legend(loc='lower right', bbox_to_anchor=(0.99, 0.0), frameon=False, fontsize=8.3,
          handlelength=1.8, labelspacing=0.2, handletextpad=0.6, borderpad=0.2)

# page number
fig.text(0.987, 0.982, '6', fontfamily='cmr10', fontsize=13, ha='center', va='center')

fig.savefig('out.png', dpi=100)
